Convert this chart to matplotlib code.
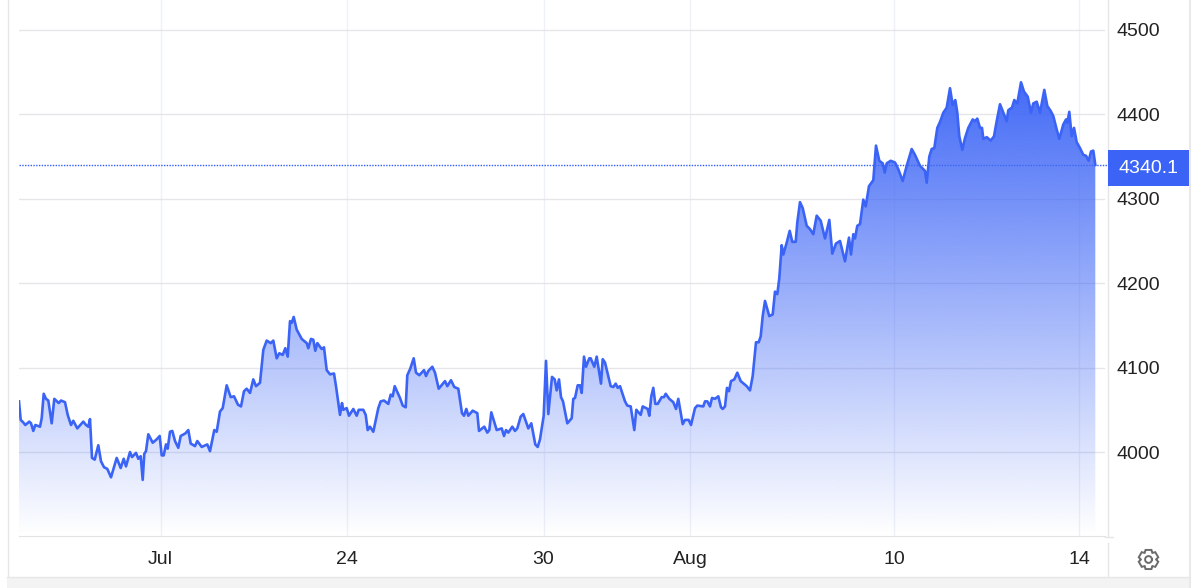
#!/usr/bin/env python3
"""Area chart of a price series with a last-value tag on the right axis."""

import matplotlib

matplotlib.use("Agg")

import matplotlib.pyplot as plt
import numpy as np
from matplotlib.lines import Line2D
from matplotlib.patches import Polygon, Rectangle

W, H = 1200, 588
PLOT_L, PLOT_R, PLOT_T, PLOT_B = 19, 1105, 0, 536

BLUE = "#3b64f6"
TEXT = "#222222"
FONT_SIZE = 14

# horizontal position along the session axis, and price
bar_pos = [
    0, 1.7, 4.3, 6.3, 10.3, 12, 14.3, 16.3, 21, 22.7, 24.7, 27, 29.3, 32.7, 35.3, 39.7, 42, 46, 48.7, 52,
    54.3, 58.3, 64.3, 67, 69.3, 71, 73, 75.7, 79.3, 82, 85, 88.3, 92, 97.7, 101.7, 104.7, 107, 111, 113, 117,
    119.3, 121.7, 123.7, 125.3, 127, 129.3, 133.7, 137.7, 140.7, 142.7, 144.7, 147, 148.7, 151, 153.3, 156, 159.3, 161.7, 166.3, 169.3,
    171.7, 176, 178.3, 182.7, 188.3, 191, 195.3, 197.7, 201, 203.7, 207.7, 211.7, 215, 219, 222, 225, 227.7, 231, 234.3, 237,
    241, 244.3, 247.7, 251.7, 254.3, 257.7, 260.3, 263.7, 266.3, 268.7, 271, 272.7, 274.7, 277.7, 282.7, 287.7, 289.3, 292, 294.3, 296.3,
    298.3, 302.7, 305, 307.7, 311, 315, 317, 321, 323, 324.3, 327.7, 330, 334.3, 337.7, 339.7, 344.3, 346.7, 348.7, 351, 354.3,
    359.3, 361.7, 365, 369.3, 371.7, 373.7, 375.7, 381, 383.7, 386.7, 388.3, 391, 394.7, 397, 400.3, 405, 407, 409.3, 413.3, 416,
    419.7, 426, 428.3, 432, 435.3, 439.3, 443, 445, 447.3, 449.3, 453.7, 458.3, 460, 465.3, 468.3, 470.3, 472.3, 477.7, 482.7, 485,
    487, 489.3, 493.3, 496, 498.3, 501.7, 504.3, 509.3, 512.3, 516.3, 518.7, 521, 524.7, 527, 529.3, 533, 535.7, 537.7, 540, 542,
    544, 548.3, 552.7, 554.3, 556, 558.7, 561, 562.7, 565, 567, 570.3, 571.7, 575.3, 577.7, 582, 583.7, 586, 591.7, 594.3, 596.7,
    598.7, 601, 606, 608.3, 611.7, 615.3, 617.3, 621.7, 623.7, 628.7, 630.3, 632.3, 634.3, 636.3, 638.7, 642.7, 645, 646.7, 650.3, 654.3,
    657, 659.3, 663.7, 666, 669.7, 672, 676, 678.3, 684.3, 686, 688.3, 691, 693, 696, 699.3, 702, 703.7, 706, 708, 710,
    712, 715.3, 718.3, 721.7, 727.7, 731, 733.7, 737, 739.7, 741.7, 743.7, 746, 750.3, 753.7, 756, 758.3, 760.3, 762.7, 764.3, 767.7,
    770.7, 773.3, 776.7, 778.3, 781, 783.7, 787.7, 791, 794.3, 797.7, 801.7, 806, 810.3, 813.3, 817, 821, 826, 830, 832, 834.3,
    836, 838.3, 841, 844.3, 846.7, 850, 854.3, 857, 860.3, 863.7, 865.7, 867.7, 871.7, 876, 879.3, 883.7, 887.7, 892.7, 896, 901,
    906, 907.7, 910.3, 912.7, 915.3, 918.3, 921, 924.3, 927.7, 931, 933.7, 936.3, 938.3, 940.3, 943.3, 946, 949.3, 953.7, 956, 958.3,
    961, 963, 964.3, 967.7, 971.7, 975, 977.7, 981, 984.3, 987.7, 989.3, 993, 995.3, 998.3, 1002, 1005, 1008.7, 1012, 1014.3, 1017.7,
    1021, 1025.3, 1028.3, 1031.7, 1034.3, 1037.7, 1040.3, 1044.3, 1047, 1048.3, 1050.3, 1052.7, 1055, 1057.7, 1061, 1064.3, 1067, 1069.7, 1072, 1074.3,
    1076.3,
]
price = [
    4060, 4038, 4035, 4032, 4036, 4034, 4025, 4032, 4030, 4040, 4069, 4063, 4061, 4034, 4063, 4058, 4061, 4059, 4044, 4032,
    4037, 4028, 4036, 4032, 4030, 4039, 3993, 3991, 4008, 3989, 3982, 3980, 3970, 3993, 3981, 3992, 3983, 4000, 3994, 3999,
    3992, 3995, 3967, 3998, 4001, 4021, 4011, 4015, 4019, 3996, 3996, 4009, 4004, 4024, 4025, 4013, 4005, 4019, 4022, 4026,
    4010, 4007, 4013, 4006, 4009, 4001, 4026, 4024, 4048, 4052, 4079, 4065, 4066, 4056, 4054, 4072, 4075, 4070, 4086, 4078,
    4082, 4121, 4132, 4129, 4132, 4111, 4117, 4115, 4123, 4113, 4155, 4153, 4160, 4145, 4134, 4129, 4123, 4134, 4133, 4120,
    4129, 4122, 4124, 4097, 4092, 4093, 4078, 4044, 4058, 4050, 4052, 4043, 4051, 4043, 4050, 4050, 4044, 4026, 4030, 4024,
    4052, 4060, 4061, 4057, 4068, 4066, 4078, 4064, 4055, 4053, 4091, 4098, 4111, 4094, 4091, 4097, 4090, 4096, 4101, 4094,
    4075, 4084, 4078, 4085, 4077, 4075, 4046, 4043, 4051, 4043, 4049, 4046, 4025, 4030, 4023, 4026, 4047, 4026, 4028, 4019,
    4026, 4023, 4030, 4025, 4028, 4042, 4045, 4028, 4034, 4009, 4006, 4015, 4043, 4108, 4045, 4089, 4086, 4073, 4086, 4065,
    4060, 4034, 4040, 4063, 4064, 4079, 4079, 4070, 4113, 4101, 4111, 4111, 4101, 4113, 4081, 4110, 4106, 4078, 4077, 4081,
    4076, 4078, 4060, 4055, 4054, 4026, 4050, 4044, 4054, 4051, 4043, 4066, 4076, 4057, 4057, 4065, 4065, 4069, 4063, 4059,
    4051, 4063, 4033, 4038, 4038, 4032, 4052, 4055, 4054, 4060, 4060, 4054, 4064, 4063, 4066, 4053, 4051, 4054, 4076, 4072,
    4084, 4086, 4094, 4084, 4078, 4073, 4090, 4130, 4130, 4137, 4161, 4179, 4161, 4163, 4190, 4187, 4206, 4245, 4234, 4248,
    4262, 4249, 4249, 4272, 4296, 4289, 4268, 4264, 4258, 4280, 4274, 4253, 4275, 4235, 4247, 4250, 4226, 4254, 4234, 4258,
    4253, 4268, 4270, 4299, 4291, 4315, 4322, 4363, 4345, 4342, 4331, 4342, 4345, 4343, 4335, 4321, 4339, 4359, 4352, 4339,
    4333, 4319, 4350, 4359, 4360, 4384, 4391, 4402, 4408, 4431, 4411, 4417, 4402, 4374, 4358, 4372, 4384, 4394, 4392, 4395,
    4384, 4384, 4371, 4373, 4369, 4374, 4392, 4412, 4402, 4392, 4405, 4408, 4417, 4413, 4438, 4427, 4421, 4402, 4413, 4415,
    4402, 4429, 4410, 4404, 4398, 4382, 4371, 4388, 4394, 4390, 4403, 4374, 4384, 4367, 4360, 4352, 4351, 4345, 4356, 4357,
    4340.1,
]

y_ticks = [4000, 4100, 4200, 4300, 4400, 4500]
x_tick_pos = [141.5, 328, 524.5, 671, 875, 1060]
x_tick_labels = ["Jul", "24", "30", "Aug", "10", "14"]
last_value = 4340.1


def fx(px):
    return px / W


def fy(py):
    return 1 - py / H


def hline(fig, x0, x1, y, color="#e6e6e8", lw=1.0):
    fig.add_artist(Line2D([fx(x0), fx(x1)], [fy(y), fy(y)], color=color, lw=lw))


def vline(fig, x, y0, y1, color="#e6e6e8", lw=1.0):
    fig.add_artist(Line2D([fx(x), fx(x)], [fy(y0), fy(y1)], color=color, lw=lw))


def draw_gear(fig, cx, cy, r_out=10.0, r_in=7.6, teeth=6):
    # outlined cog drawn in pixel space
    angles = []
    radii = []
    step = 2 * np.pi / teeth
    for i in range(teeth):
        a = i * step - np.pi / 2
        for da, r in ((-0.30, r_out), (0.30, r_out), (0.52, r_in), (step - 0.52, r_in)):
            angles.append(a + da)
            radii.append(r)
    xs = fx(cx + np.array(radii) * np.cos(angles))
    ys = fy(cy + np.array(radii) * np.sin(angles))
    fig.add_artist(Polygon(np.column_stack([xs, ys]), closed=True, fill=False,
                           edgecolor="#6b6b6b", lw=1.4, transform=fig.transFigure))
    circle = np.linspace(0, 2 * np.pi, 40)
    fig.add_artist(Line2D(fx(cx + 3.4 * np.cos(circle)), fy(cy + 3.4 * np.sin(circle)),
                          color="#6b6b6b", lw=1.4))


def main():
    plt.rcParams["font.family"] = ["Liberation Sans", "DejaVu Sans"]

    fig = plt.figure(figsize=(W / 100, H / 100), dpi=100, facecolor="white")
    ax = fig.add_axes([fx(PLOT_L), fy(PLOT_B), (PLOT_R - PLOT_L) / W, (PLOT_B - PLOT_T) / H])
    ax.set_facecolor("white")

    x = np.asarray(bar_pos, dtype=float)
    y = np.asarray(price, dtype=float)

    y_min, y_max = 3900.5, 4535.5
    x_max = PLOT_R - PLOT_L
    ax.set_xlim(0, x_max)
    ax.set_ylim(y_min, y_max)

    ax.axhline(last_value, color="#2f5bff", lw=1.0, ls=(0, (1, 1)), zorder=0.8, clip_on=False)

    # vertical gradient, strongest at the series high, cut to the area under the line
    grad = np.ones((256, 1, 4))
    grad[..., :3] = matplotlib.colors.to_rgb("#3e66f6")
    grad[:, 0, 3] = np.linspace(0.97, 0.0, 256)
    img = ax.imshow(grad, extent=[0, x_max, y_min, y.max()], aspect="auto", origin="upper", zorder=1)
    poly = ax.fill_between(x, y, y_min, color="none")
    img.set_clip_path(poly.get_paths()[0], transform=ax.transData)
    ax.set_xlim(0, x_max)
    ax.set_ylim(y_min, y_max)

    ax.plot(x, y, color=BLUE, lw=1.9, solid_joinstyle="round", zorder=2)

    ax.yaxis.tick_right()
    ax.set_yticks(y_ticks)
    ax.set_xticks(x_tick_pos, x_tick_labels)
    ax.grid(True, axis="y", color="#e6e6ea", lw=1.0, zorder=0)
    ax.grid(True, axis="x", color="#eef1f7", lw=1.0, zorder=0)
    ax.set_axisbelow(True)
    ax.tick_params(axis="y", length=0, pad=8, labelsize=FONT_SIZE, labelcolor=TEXT)
    ax.tick_params(axis="x", length=0, pad=11, labelsize=FONT_SIZE, labelcolor=TEXT)
    for side in ("top", "left", "right"):
        ax.spines[side].set_visible(False)
    ax.spines["bottom"].set_color("#e2e2e4")

    # last value tag
    tag_y = ax.transData.transform((0, last_value))[1]
    fig.add_artist(Rectangle((fx(1108), fy(186)), 81 / W, 36 / H, facecolor=BLUE, edgecolor="none",
                             transform=fig.transFigure, zorder=5))
    fig.text(fx(1148.5), fy(169), f"{last_value:.1f}", color="white", fontsize=FONT_SIZE,
             ha="center", va="center", zorder=6)
    fig.add_artist(Line2D([fx(PLOT_R), fx(1108)], [tag_y / H, tag_y / H], color="#2f5bff", lw=1.0, ls=(0, (1, 1))))

    # surrounding widget frame
    fig.add_artist(Rectangle((fx(7), 0), 1183 / W, 11 / H, facecolor="#f3f3f3", edgecolor="none",
                             transform=fig.transFigure))
    hline(fig, 7, 1190, 576.5)
    vline(fig, 7.5, 0, 576)
    vline(fig, 1189.5, 0, 588, color="#e9e9eb", lw=1.5)
    vline(fig, 1107.5, 0, 536)
    vline(fig, 1107.5, 543, 576)
    hline(fig, 1105, 1113, 536.5)

    draw_gear(fig, 1148.5, 559.5)

    fig.savefig("out.png", dpi=100, facecolor="white")
    plt.close(fig)


if __name__ == "__main__":
    main()
